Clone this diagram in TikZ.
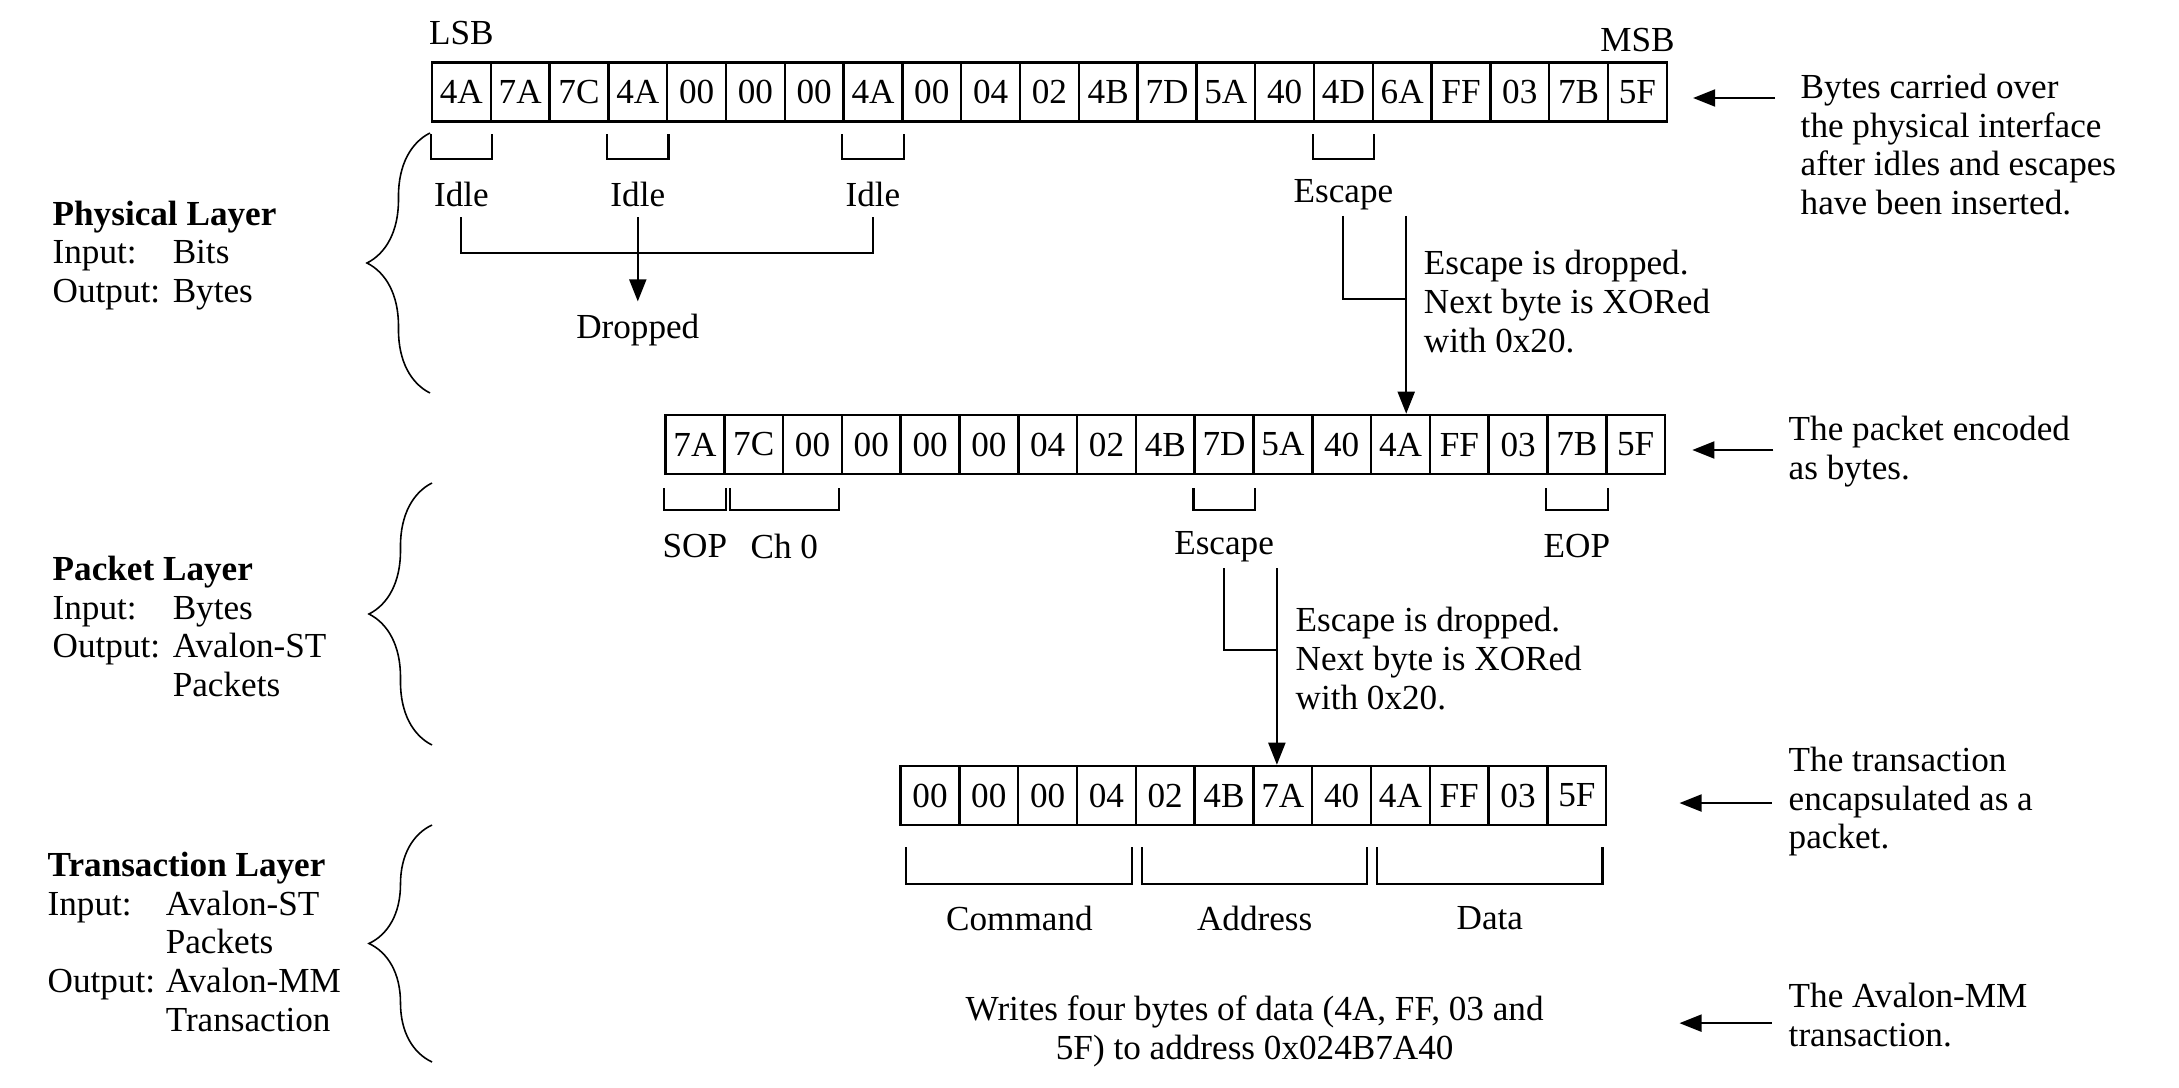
\documentclass[tikz,border=0pt]{standalone}
\usepackage{fontspec}
\setmainfont{Liberation Serif}
\usetikzlibrary{arrows.meta, positioning, calc, decorations.pathreplacing}

\begin{document}
\begin{tikzpicture}[
  x=0.01cm, y=-0.01cm,
  font=\fontsize{10}{11}\selectfont,
  byte/.style={draw, line width=0.7pt, minimum width=0.588cm, minimum height=0.59cm, inner sep=0pt},
  lbl/.style={inner sep=0pt},
  note/.style={inner sep=0pt, align=left, anchor=north west},
  wire/.style={line width=0.55pt},
  arrow/.style={-{Triangle[length=0.22cm, width=0.17cm]}, line width=0.55pt},
  bracket/.style={line width=0.6pt},
  layerbrace/.style={decorate, decoration={brace, amplitude=0.63cm}, line width=0.45pt}
]
  \useasboundingbox (0,0) rectangle (2179,1088);

  \foreach \v [count=\i] in {4A,7A,7C,4A,00,00,00,4A,00,04,02,4B,7D,5A,40,4D,6A,FF,03,7B,5F}
    \node[byte] (t\i) at ({432+(\i-0.5)*58.8},92) {\v};
  \foreach \v [count=\i] in {7A,7C,00,00,00,00,04,02,4B,7D,5A,40,4A,FF,03,7B,5F}
    \node[byte] (m\i) at ({665.5+(\i-0.5)*58.8},444.5) {\v};
  \foreach \v [count=\i] in {00,00,00,04,02,4B,7A,40,4A,FF,03,5F}
    \node[byte] (b\i) at ({900.6+(\i-0.5)*58.8},795.5) {\v};

  \node[lbl] (lsb) at ([yshift=0.28cm]t1.north) {LSB};
  \node[lbl] (msb) at ([yshift=0.21cm]t21.north) {MSB};

  \foreach \c in {1,4,8,16}
    \draw[bracket] ([yshift=-0.115cm]t\c.south west) -- ++(0,25) -| ([yshift=-0.115cm]t\c.south east);
  \node[lbl] (idle1) at ([yshift=-0.715cm]t1.south) {Idle};
  \node[lbl] (idle2) at ([yshift=-0.715cm]t4.south) {Idle};
  \node[lbl] (idle3) at ([yshift=-0.715cm]t8.south) {Idle};
  \node[lbl] (esc1) at ([yshift=-0.715cm]t16.south) {Escape};
  \node[lbl, below=1.06cm of idle2] (dropped) {Dropped};

  \draw[wire] ([yshift=-0.1cm]idle1.south) -- ++(0,36) -| ([yshift=-0.1cm]idle3.south);
  \draw[arrow] ([yshift=-0.1cm]idle2.south) -- ([yshift=0.12cm]dropped.north);

  \coordinate (xor1) at ([xshift=0.04cm,yshift=-0.93cm]t17.south);
  \draw[arrow] (xor1) -- (xor1 |- m13.north);
  \draw[wire] (esc1.south |- xor1) |- ([yshift=-0.83cm]xor1);
  \node[note] (note1) at ([xshift=0.17cm,yshift=-0.34cm]xor1) {Escape is dropped.\\Next byte is XORed\\with 0x20.};

  \foreach \c in {1,10,16}
    \draw[bracket] ([yshift=-0.13cm]m\c.south west) -- ++(0,22) -| ([yshift=-0.13cm]m\c.south east);
  \draw[bracket] ([xshift=0.065cm,yshift=-0.13cm]m2.south west) -- ++(0,22) -| ([xshift=-0.04cm,yshift=-0.13cm]m3.south east);
  \node[lbl] (sop) at ([yshift=-0.71cm]m1.south) {SOP};
  \node[lbl] (ch0) at ([yshift=-0.71cm]m2.south east) {Ch 0};
  \node[lbl] (esc2) at ([yshift=-0.71cm]m10.south) {Escape};
  \node[lbl] (eop) at ([yshift=-0.71cm]m16.south) {EOP};

  \coordinate (xor2) at ([xshift=-0.06cm,yshift=-0.93cm]m11.south);
  \draw[arrow] (xor2) -- (xor2 |- b7.north);
  \draw[wire] (esc2.south |- xor2) |- ([yshift=-0.82cm]xor2);
  \node[note] (note2) at ([xshift=0.18cm,yshift=-0.385cm]xor2) {Escape is dropped.\\Next byte is XORed\\with 0x20.};

  \draw[bracket] ([xshift=0.07cm,yshift=-0.21cm]b1.south west) -- ++(0,37) -| ([xshift=-0.05cm,yshift=-0.21cm]b4.south east);
  \draw[bracket] ([xshift=0.07cm,yshift=-0.21cm]b5.south west) -- ++(0,37) -| ([xshift=-0.05cm,yshift=-0.21cm]b8.south east);
  \draw[bracket] ([xshift=0.07cm,yshift=-0.21cm]b9.south west) -- ++(0,37) -| ([xshift=-0.05cm,yshift=-0.21cm]b12.south east);
  \node[lbl] (cmd) at ([yshift=-0.92cm]b2.south east) {Command};
  \node[lbl] (addr) at ([yshift=-0.92cm]b6.south east) {Address};
  \node[lbl] (data) at ([yshift=-0.92cm]b10.south east) {Data};
  \node[note, anchor=north, align=center] (writes) at ([yshift=-1.685cm]b6.south east) {Writes four bytes of data (4A, FF, 03 and\\5F) to address 0x024B7A40};

  \node[note] (desc1) at (1800,73.5) {Bytes carried over\\the physical interface\\after idles and escapes\\have been inserted.};
  \node[note] (desc2) at (1788,415.5) {The packet encoded\\as bytes.};
  \node[note] (desc3) at (1788,746.5) {The transaction\\encapsulated as a\\packet.};
  \node[note] (desc4) at (1788,982.5) {The Avalon-MM\\transaction.};

  \coordinate (tip1) at ([xshift=0.25cm,yshift=-0.06cm]t21.east);
  \coordinate (tip2) at ([xshift=0.26cm,yshift=-0.055cm]m17.east);
  \coordinate (tip3) at ([xshift=0.72cm,yshift=-0.075cm]b12.east);
  \coordinate (tip4) at ([yshift=-2.2cm]tip3);
  \draw[arrow] ([xshift=0.82cm]tip1) -- (tip1);
  \draw[arrow] ([xshift=0.81cm]tip2) -- (tip2);
  \draw[arrow] ([xshift=0.92cm]tip3) -- (tip3);
  \draw[arrow] ([xshift=0.92cm]tip4) -- (tip4);

  \node[note] (phys) at (52,200) {\textbf{Physical Layer}\\\makebox[1.2cm][l]{Input:}Bits\\\makebox[1.2cm][l]{Output:}Bytes};
  \node[note] (pack) at (52,555.5) {\textbf{Packet Layer}\\\makebox[1.2cm][l]{Input:}Bytes\\\makebox[1.2cm][l]{Output:}Avalon-ST\\\hspace*{1.2cm}Packets};
  \node[note] (trans) at (47,851.5) {\textbf{Transaction Layer}\\\makebox[1.18cm][l]{Input:}Avalon-ST\\\hspace*{1.18cm}Packets\\\makebox[1.18cm][l]{Output:}Avalon-MM\\\hspace*{1.18cm}Transaction};

  \draw[layerbrace] (430,393) -- (430,133);
  \draw[layerbrace] (432,745) -- (432,483);
  \draw[layerbrace] (432,1062) -- (432,825);
\end{tikzpicture}
\end{document}
